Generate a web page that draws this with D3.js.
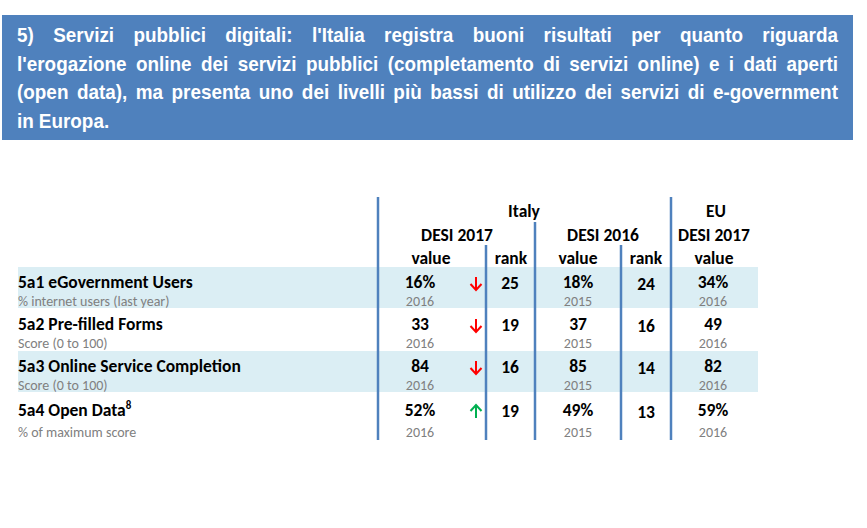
<!DOCTYPE html>
<html><head><meta charset="utf-8">
<script src="https://cdn.jsdelivr.net/npm/d3@7"></script>
<style>body{margin:0;background:#fff}</style>
</head><body><svg id="c" width="867" height="528"></svg>
<script>
const titleLines = [
  "5) Servizi pubblici digitali: l'Italia registra buoni risultati per quanto riguarda",
  "l'erogazione online dei servizi pubblici (completamento di servizi online) e i dati aperti",
  "(open data), ma presenta uno dei livelli più bassi di utilizzo dei servizi di e-government",
  "in Europa."
];
const indicators = ["5a1 eGovernment Users", "5a2 Pre-filled Forms", "5a3 Online Service Completion", "5a4 Open Data"];
const footnotes = ["", "", "", "8"];
const units = ["% internet users (last year)", "Score (0 to 100)", "Score (0 to 100)", "% of maximum score"];
const desi2017Values = ["16%", "33", "84", "52%"];
const desi2017Years = ["2016", "2016", "2016", "2016"];
const trend = ["down", "down", "down", "up"];
const desi2017Ranks = ["25", "19", "16", "19"];
const desi2016Values = ["18%", "37", "85", "49%"];
const desi2016Years = ["2015", "2015", "2015", "2015"];
const desi2016Ranks = ["24", "16", "14", "13"];
const euValues = ["34%", "49", "82", "59%"];
const euYears = ["2016", "2016", "2016", "2016"];
const groupHeaders = ["Italy", "EU"];
const periodHeaders = ["DESI 2017", "DESI 2016", "DESI 2017"];
const colHeaders = ["value", "rank", "value", "rank", "value"];

const svg = d3.select("#c");
const BLUE = "#4f81bd";
const BAND = "#dbeef4";
const GRAY = "#808080";
const TFONT = "'Liberation Sans Narrow','Arial Narrow','Liberation Sans',Arial,sans-serif";
const FONT = "Carlito, Calibri, Lato, sans-serif";
const BOLD = 17.5, SMALL = 14;

// ---- Title box ----
svg.append("rect").attr("x", 2).attr("y", 15).attr("width", 851).attr("height", 125).attr("fill", BLUE);
const lineY = d3.scaleLinear().domain([0, 3]).range([42, 128]);
const tLeft = 17, tRight = 838, SX = 0.9;
titleLines.forEach((line, i) => {
  const words = line.split(" ");
  const g = svg.append("g");
  const nodes = words.map(w => g.append("text").text(w)
    .attr("font-family", TFONT).attr("font-weight", "bold").attr("font-size", 21)
    .attr("fill", "#fff"));
  const widths = nodes.map(n => n.node().getComputedTextLength() * SX);
  const total = d3.sum(widths);
  const justify = i < titleLines.length - 1;
  const gap = justify ? (tRight - tLeft - total) / (words.length - 1) : 5;
  let x = tLeft;
  nodes.forEach((n, k) => {
    n.attr("transform", `translate(${x},${lineY(i)}) scale(${SX},1)`);
    x += widths[k] + gap;
  });
});

// ---- Table ----
const rowY = d3.scaleLinear().domain([0, 3]).range([288, 414]);
const nameY = i => rowY(i) + (i === 3 ? 2 : 0);
const subY = i => rowY(i) + 18 + (i === 3 ? 5 : 0);

// bands
[0, 2].forEach(i => {
  svg.append("rect").attr("x", 18).attr("width", 740)
    .attr("y", rowY(i) - 21).attr("height", 41).attr("fill", BAND);
});

const col = d3.scaleOrdinal()
  .domain(["v17", "arr", "r17", "v16", "r16", "eu"])
  .range([420, 476, 510, 578, 646, 713]);

function txt(x, y, s, opts = {}) {
  return svg.append("text").attr("x", x).attr("y", y).text(s)
    .attr("font-family", FONT)
    .attr("font-weight", opts.weight || "bold")
    .attr("font-size", opts.size || BOLD)
    .attr("fill", opts.fill || "#000")
    .attr("text-anchor", opts.anchor || "middle");
}
const small = { weight: "normal", size: SMALL, fill: GRAY };

// headers
txt(524, 217, groupHeaders[0]);
txt(716, 217, groupHeaders[1]);
[457, 603, 714].forEach((x, k) => txt(x, 241, periodHeaders[k]));
[431, 511, 578, 646, 714].forEach((x, k) => txt(x, 264, colHeaders[k]));

// rows
indicators.forEach((name, i) => {
  const t = txt(18, nameY(i), name, { anchor: "start" });
  if (footnotes[i]) t.append("tspan").attr("font-size", 11).attr("dy", -7).text(footnotes[i]);
  txt(18, subY(i), units[i], Object.assign({ anchor: "start" }, small));

  txt(col("v17"), nameY(i), desi2017Values[i]);
  txt(col("v17"), subY(i), desi2017Years[i], small);
  txt(col("r17"), nameY(i) + 1, desi2017Ranks[i]);
  txt(col("v16"), nameY(i), desi2016Values[i]);
  txt(col("v16"), subY(i), desi2016Years[i], small);
  txt(col("r16"), nameY(i) + 2, desi2016Ranks[i]);
  txt(col("eu"), nameY(i), euValues[i]);
  txt(col("eu"), subY(i), euYears[i], small);

  // arrow
  const ax = col("arr"), top = nameY(i) - 11, bot = nameY(i) + 2;
  const up = trend[i] === "up";
  const color = up ? "#00b050" : "#ff0000";
  const tip = up ? top : bot, base = up ? bot : top;
  const dir = up ? 1 : -1;
  svg.append("path")
    .attr("d", `M${ax},${base}L${ax},${tip}M${ax - 5.5},${tip + dir * 6}L${ax},${tip}L${ax + 5.5},${tip + dir * 6}`)
    .attr("stroke", color).attr("stroke-width", 2).attr("fill", "none");
});

// vertical rules
[[378, 197], [486, 245], [535, 222], [621, 245], [671, 197]].forEach(([x, y0]) => {
  svg.append("line").attr("x1", x).attr("x2", x).attr("y1", y0).attr("y2", 440)
    .attr("stroke", BLUE).attr("stroke-width", 2.5);
});
</script>
</body></html>
